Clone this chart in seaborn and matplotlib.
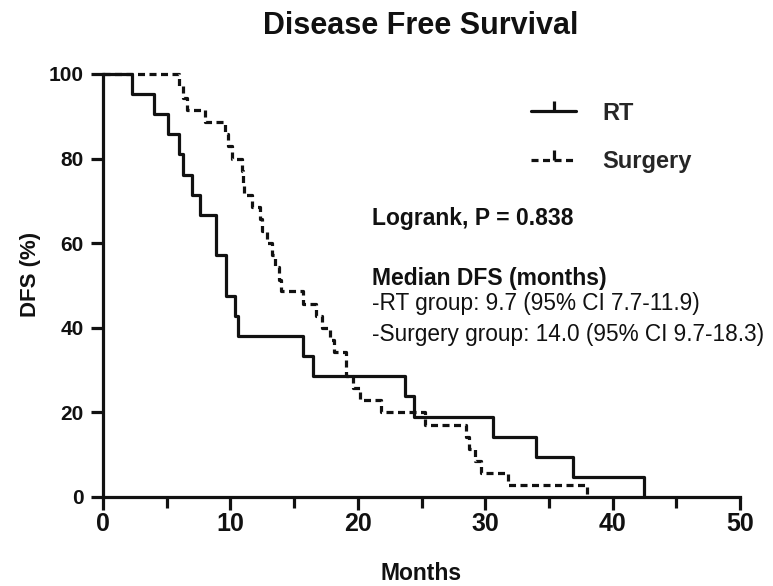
import numpy as np
import pandas as pd
import matplotlib
matplotlib.use("Agg")
import matplotlib.pyplot as plt
import seaborn as sns
from matplotlib.lines import Line2D
from matplotlib.ticker import MultipleLocator

# ---- data (Kaplan-Meier steps) ----
rt_months = [0, 2.3, 4.0, 5.1, 6.0, 6.3, 7.0, 7.6, 8.9, 9.65, 10.35, 10.6,
             15.7, 16.5, 23.7, 24.4, 30.6, 34.0, 36.9, 42.5]
rt_dfs = [100, 95.2, 90.5, 85.7, 81.0, 76.2, 71.4, 66.7, 57.1, 47.6, 42.9, 38.1,
          33.3, 28.6, 23.8, 19.0, 14.3, 9.5, 4.8, 0]

surgery_months = [0, 6.0, 6.3, 6.6, 8.0, 9.6, 9.8, 10.1, 10.9, 11.0, 11.1, 11.7,
                  12.3, 12.5, 12.9, 13.3, 13.5, 13.8, 14.0, 15.7, 16.7, 17.2,
                  17.8, 18.1, 19.1, 19.6, 20.2, 21.8, 25.3, 28.5, 28.7, 29.2,
                  29.7, 31.8, 38.0]
surgery_dfs = [100, 97.1, 94.3, 91.4, 88.6, 85.7, 82.9, 80.0, 77.1, 74.3, 71.4, 68.6,
               65.7, 62.9, 60.0, 57.1, 54.3, 51.4, 48.6, 45.7, 42.9, 40.0,
               37.1, 34.3, 28.6, 25.7, 22.9, 20.0, 17.1, 14.3, 11.4, 8.6,
               5.7, 2.9, 0]

groups = ["RT", "Surgery"]
x_ticks = [0, 10, 20, 30, 40, 50]
y_ticks = [0, 20, 40, 60, 80, 100]

title = "Disease Free Survival"
x_label = "Months"
y_label = "DFS (%)"
logrank_text = "Logrank, P = 0.838"
median_title = "Median DFS (months)"
median_lines = ["-RT group: 9.7 (95% CI 7.7-11.9)",
                "-Surgery group: 14.0 (95% CI 9.7-18.3)"]

df = pd.concat([
    pd.DataFrame({"Months": rt_months, "DFS": rt_dfs, "Group": groups[0]}),
    pd.DataFrame({"Months": surgery_months, "DFS": surgery_dfs, "Group": groups[1]}),
], ignore_index=True)

# ---- style ----
sns.set_theme(style="ticks")
plt.rcParams["font.family"] = ["Liberation Sans", "DejaVu Sans"]

W, H = 773, 586
fig = plt.figure(figsize=(W / 100, H / 100), dpi=100)
ax = fig.add_axes([103 / W, 1 - 497 / H, 637 / W, 423 / H])

INK = "#111111"
LW = 2.3
dash = (2.2, 1.4)
sns.lineplot(data=df, x="Months", y="DFS", hue="Group", style="Group",
             palette={"RT": INK, "Surgery": INK},
             dashes={"RT": "", "Surgery": dash},
             drawstyle="steps-post", estimator=None, sort=False,
             linewidth=LW, legend=False, clip_on=False, ax=ax)

ax.set_xlim(0, 50)
ax.set_ylim(0, 100)
ax.set_xticks(x_ticks)
ax.set_yticks(y_ticks)
ax.xaxis.set_minor_locator(MultipleLocator(5))
for s in ["top", "right"]:
    ax.spines[s].set_visible(False)
for s in ["left", "bottom"]:
    ax.spines[s].set_linewidth(LW)
    ax.spines[s].set_color(INK)
ax.tick_params(axis="both", which="both", direction="out", width=LW,
               color=INK, length=9)
ax.tick_params(axis="x", which="minor", length=8)
ax.tick_params(axis="x", which="major", labelsize=18, pad=2)
ax.tick_params(axis="y", which="major", labelsize=15, pad=5)
for lab in ax.get_xticklabels() + ax.get_yticklabels():
    lab.set_fontweight("bold")
    lab.set_color(INK)

ax.set_xlabel(x_label, fontsize=16.5, fontweight="bold", color=INK,
              va="center")
ax.set_ylabel(y_label, fontsize=16, fontweight="bold", color=INK)
ax.xaxis.set_label_coords(0.5, (497 - 574) / 423)
ax.yaxis.set_label_coords((41 - 103) / 637, (497 - 274) / 423)

fig.text(421 / W, 1 - 26 / H, title, ha="center", va="center",
         fontsize=22, fontweight="bold", color=INK)

# legend
handles = [
    Line2D([0], [0], color=INK, lw=LW, marker=2, markersize=7.5,
           markeredgewidth=LW),
    Line2D([0], [0], color=INK, lw=LW, ls=(0, dash), marker=2,
           markersize=7.5, markeredgewidth=LW),
]
fig.legend(handles, groups, loc="upper left",
           bbox_to_anchor=(531 / W, 1 - 101.5 / H), frameon=False,
           prop={"size": 17, "weight": "bold"}, handlelength=1.92,
           handletextpad=1.1, labelspacing=1.1, borderpad=0,
           borderaxespad=0, numpoints=1)

fig.text(372 / W, 1 - 219 / H, logrank_text, ha="left", va="center",
         fontsize=16.5, fontweight="bold", color=INK)
fig.text(372 / W, 1 - 279 / H, median_title, ha="left", va="center",
         fontsize=16.5, fontweight="bold", color=INK)
fig.text(372 / W, 1 - 304 / H, median_lines[0], ha="left", va="center",
         fontsize=16.3, color=INK)
fig.text(372 / W, 1 - 335 / H, median_lines[1], ha="left", va="center",
         fontsize=16.3, color=INK)

fig.savefig("out.png", dpi=100)
